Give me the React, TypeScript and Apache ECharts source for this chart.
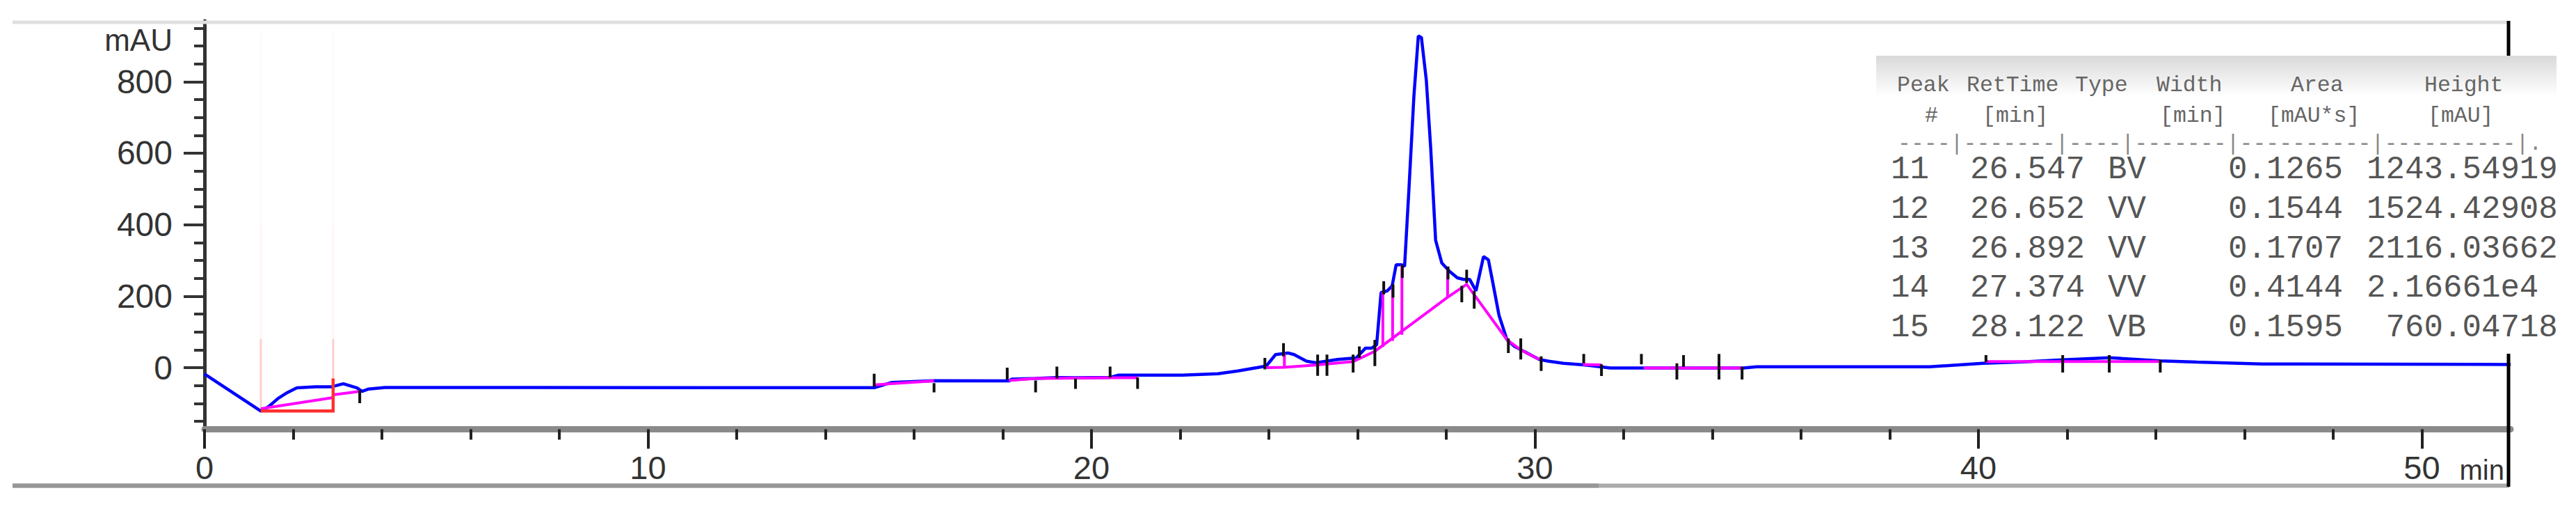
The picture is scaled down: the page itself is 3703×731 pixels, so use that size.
import React, { useEffect, useRef } from 'react';
import * as echarts from 'echarts';

// ---- chromatogram trace (time in min, signal in mAU) ----
const traceTime = [
  0, 1.27, 1.45, 1.66, 1.87, 2.08, 2.5, 2.87, 3.13, 3.44, 3.55, 3.7, 4.07,
  15.1, 15.5, 16.45, 18.14, 18.2, 18.74, 19.22, 19.64, 20.42, 20.6, 21.04, 22.05, 22.85, 23.3,
  23.73, 23.94, 24.15, 24.43, 24.57, 24.85, 25.06, 25.55, 25.97, 26.18, 26.32, 26.43,
  26.53, 26.67, 26.78, 26.87, 26.99, 27.06, 27.16, 27.27, 27.37, 27.44, 27.55, 27.65,
  27.76, 27.9, 28.07, 28.25, 28.39, 28.53, 28.67, 28.84, 28.95, 29.05, 29.19, 29.37,
  29.54, 29.75, 30.1, 30.31, 30.64, 31.1, 31.7, 34.7, 35.0, 38.9, 40.1, 41.0, 41.9,
  42.95, 44.1, 44.93, 46.4, 52,
];
const traceMAU = [
  -17.5, -121.3, -108.4, -85.7, -69.4, -56.5, -53.2, -53.2, -44.8, -56.5, -66.2, -59.7, -55.4,
  -55.8, -41, -36.3, -37, -32, -30, -27.5, -28, -27, -21, -21, -21, -17, -9,
  0, 4.6, 36.6, 41.2, 36.6, 18.3, 13.7, 22.9, 27.5, 54.9, 54.9, 64,
  210.3, 214.9, 228.6, 288, 288, 283.4, 502.9, 758.9, 928, 923.4, 804.6, 612.6,
  356.6, 292.6, 269.7, 251.4, 246.9, 246.9, 214.9, 310.9, 301.7, 237.7, 146.3, 77.8,
  59.5, 45.7, 22.9, 18.3, 12.3, 8, -0.7, -0.7, 2.6, 2.6, 12.3, 16, 22,
  28, 19, 15.6, 10.4, 9.1,
];

// ---- integration baselines (magenta) ----
const baselineSegments = [
  [[1.27, -114.9], [2.9, -83.7]],
  [[2.9, -75.9], [3.5, -66.2]],
  [[15.1, -48], [16.45, -37]],
  [[18.14, -36], [18.75, -30], [19.64, -29], [20.42, -28], [21.04, -28]],
  [[23.94, 0], [24.35, 1], [25.1, 8], [25.9, 17], [26.39, 46], [28.02, 196], [28.46, 233], [29.37, 78], [29.68, 50], [30.1, 23]],
  [[31.08, 9], [31.5, 8]],
  [[32.45, -0.7], [34.7, -0.7]],
  [[40.17, 17], [44.1, 17]],
];
// drop lines: [time, from, to]
const dropLines = [
  [24.35, 1, 40],
  [26.57, 58, 212],
  [26.79, 75, 228],
  [27.0, 92, 287],
  [28.03, 196, 272],
];
// peak start/end tick marks: [time, v1, v2]
const peakMarks = [
  [3.5, -63, -99], [15.1, -17, -53], [16.45, -43, -69], [18.1, 0, -33], [18.74, -36, -69],
  [19.22, 3, -30], [19.64, -30, -59], [20.42, 3, -27], [21.04, -27, -59],
  [23.91, 27.5, -4.6], [24.33, 68.6, 32], [25.1, 36.6, -22.8], [25.31, 36.6, -22.8],
  [25.9, 36.6, -13.7], [26.04, 59.5, 27.5], [26.39, 77.8, 4.6], [26.59, 242, 205],
  [26.8, 233, 196], [27.01, 288, 251], [28.04, 283, 247], [28.35, 229, 183],
  [28.46, 274, 237], [28.63, 215, 165], [29.4, 82, 41], [29.68, 82, 23], [30.14, 32, -9],
  [31.1, 38.5, 12.3], [31.5, 9.3, -23.4], [32.4, 38.5, 9.3], [33.2, 12.3, -33.1],
  [33.35, 35.3, 2.6], [34.15, 38.5, -33.1], [34.67, 2.6, -33.1], [40.17, 35.3, 15.6],
  [41.9, 35.3, -13.6], [42.95, 35.3, -13.6], [44.1, 22, -13.6],
];
// integration event box (red)
const eventBox = [[1.27, -121.3], [2.9, -121.3], [2.9, -30]];
const eventTimes = [1.27, 2.9];
const eventStarts = [-121.3, -30];
const eventTop = 935;

// ---- axes ----
const yMajor = [0, 200, 400, 600, 800];
const yMinor = [-150, -100, -50, 50, 100, 150, 250, 300, 350, 450, 500, 550, 650, 700, 750, 850, 900, 950];
const xMajor = [0, 10, 20, 30, 40, 50];
const xMinor = [2, 4, 6, 8, 12, 14, 16, 18, 22, 24, 26, 28, 32, 34, 36, 38, 42, 44, 46, 48];
const yUnit = 'mAU';
const xUnit = 'min';

// ---- peak table ----
const headerLine1 = ['Peak', 'RetTime', 'Type', 'Width', 'Area', 'Height'];
const headerLine2 = ['#', '[min]', '[min]', '[mAU*s]', '[mAU]'];
const headerRule = '----|-------|----|-------|----------|----------|.';
const peakNo = ['11', '12', '13', '14', '15'];
const peakRetTime = ['26.547', '26.652', '26.892', '27.374', '28.122'];
const peakType = ['BV', 'VV', 'VV', 'VV', 'VB'];
const peakWidth = ['0.1265', '0.1544', '0.1707', '0.4144', '0.1595'];
const peakArea = ['1243.54919', '1524.42908', '2116.03662', '2.16661e4', ' 760.04718'];

const SANS = "'Liberation Sans', Arial, Helvetica, sans-serif";
const MONO = "'Liberation Mono', 'DejaVu Sans Mono', monospace";

export default function App() {
  const ref = useRef<HTMLDivElement>(null);

  useEffect(() => {
    if (!ref.current) return;
    const chart = echarts.init(ref.current, undefined, { renderer: 'svg' });

    const W = 3703;
    const gridLeft = 294;
    const gridRight = 3609;
    const gridTop = 30;
    const axisY = 616.4;

    const fadeBands = [
      [null, 80, 0.22],
      [80, 400, 0.05],
      [400, eventTop, 0.025],
    ];
    const eventLines: any[] = [];
    eventTimes.forEach((t, i) => {
      fadeBands.forEach(([a, b, op]) => {
        const from = a === null ? eventStarts[i] : (a as number);
        eventLines.push({
          coords: [[t, from], [t, b]],
          lineStyle: { color: '#ff2020', opacity: op, width: 3 },
        });
      });
    });

    // table layout
    const tX = 2697, tY = 80, tW = 978, tH = 428;
    const h1X = [2727, 2827, 2983, 3100, 3293, 3485];
    const h2X = [2767, 2850, 3105, 3260, 3490];
    const rowX = [2718, 2832, 3030, 3203, 3402];
    const charW = 27.5;
    const rowY0 = 244, rowStep = 56.8;

    const tableText: any[] = [];
    headerLine1.forEach((s, i) =>
      tableText.push({ type: 'text', id: `h1_${i}`, x: h1X[i], y: 122, z: 12, style: { text: s, font: `31.5px ${MONO}`, fill: '#666', align: 'left', verticalAlign: 'middle' } }));
    headerLine2.forEach((s, i) =>
      tableText.push({ type: 'text', id: `h2_${i}`, x: h2X[i], y: 166, z: 12, style: { text: s, font: `31.5px ${MONO}`, fill: '#666', align: 'left', verticalAlign: 'middle' } }));
    tableText.push({ type: 'text', id: 'rule', x: 2728, y: 206, z: 12, style: { text: headerRule, font: `31.5px ${MONO}`, fill: '#888', align: 'left', verticalAlign: 'middle' } });
    peakNo.forEach((_, r) => {
      const cells = [peakNo[r], peakRetTime[r], peakType[r], peakWidth[r], peakArea[r]];
      cells.forEach((c, k) => {
        const lead = c.length - c.trimStart().length;
        tableText.push({
          type: 'text', id: `cell_${r}_${k}`, x: rowX[k] + lead * charW, y: rowY0 + r * rowStep, z: 12,
          style: { text: c.trim(), font: `45.8px ${MONO}`, fill: '#555', align: 'left', verticalAlign: 'middle' },
        });
      });
    });

    const option: any = {
      animation: false,
      backgroundColor: '#ffffff',
      grid: { left: gridLeft, right: W - gridRight, top: gridTop, bottom: 731 - axisY, containLabel: false },
      xAxis: [
        {
          type: 'value', min: 0, max: 52, position: 'bottom',
          axisLine: { show: true, onZero: false, lineStyle: { color: '#8a8a8a', width: 9 } },
          axisTick: { show: true, customValues: xMajor, length: 28, lineStyle: { color: '#222', width: 4 } },
          axisLabel: { show: true, customValues: xMajor, margin: 32, fontSize: 47, color: '#333', fontFamily: SANS },
          splitLine: { show: false },
        },
        {
          type: 'value', min: 0, max: 52, position: 'bottom',
          axisLine: { show: true, onZero: false, lineStyle: { color: 'rgba(0,0,0,0)', width: 1 } },
          axisTick: { show: true, customValues: xMinor, length: 15, lineStyle: { color: '#222', width: 4 } },
          axisLabel: { show: false },
          splitLine: { show: false },
        },
      ],
      yAxis: [
        {
          type: 'value', min: -172, max: 970, position: 'left',
          axisLine: { show: true, onZero: false, lineStyle: { color: '#333', width: 5 } },
          axisTick: { show: true, customValues: yMajor, length: 30, lineStyle: { color: '#333', width: 4 } },
          axisLabel: { show: true, customValues: yMajor, margin: 46, fontSize: 48, color: '#333', fontFamily: SANS },
          splitLine: { show: false },
        },
        {
          type: 'value', min: -172, max: 970, position: 'left',
          axisLine: { show: true, onZero: false, lineStyle: { color: 'rgba(0,0,0,0)', width: 1 } },
          axisTick: { show: true, customValues: yMinor, length: 15, lineStyle: { color: '#333', width: 4 } },
          axisLabel: { show: false },
          splitLine: { show: false },
        },
      ],
      series: [
        {
          type: 'line', xAxisIndex: 0, yAxisIndex: 0, z: 2,
          data: traceTime.map((t, i) => [t, traceMAU[i]]),
          showSymbol: false, symbol: 'none',
          lineStyle: { color: '#0000ff', width: 4.5 },
        },
        {
          type: 'lines', coordinateSystem: 'cartesian2d', xAxisIndex: 0, yAxisIndex: 0, z: 3,
          polyline: true, silent: true,
          data: eventLines,
        },
        {
          type: 'lines', coordinateSystem: 'cartesian2d', xAxisIndex: 0, yAxisIndex: 0, z: 3,
          polyline: true, silent: true,
          data: baselineSegments.map((c) => ({ coords: c })),
          lineStyle: { color: '#ff00ff', width: 4, opacity: 1 },
        },
        {
          type: 'lines', coordinateSystem: 'cartesian2d', xAxisIndex: 0, yAxisIndex: 0, z: 3,
          polyline: true, silent: true,
          data: dropLines.map(([t, a, b]) => ({ coords: [[t, a], [t, b]] })),
          lineStyle: { color: '#ff00ff', width: 4, opacity: 1 },
        },
        {
          type: 'lines', coordinateSystem: 'cartesian2d', xAxisIndex: 0, yAxisIndex: 0, z: 4,
          polyline: true, silent: true,
          data: [{ coords: eventBox }],
          lineStyle: { color: '#ff3030', width: 4.5, opacity: 1 },
        },
        {
          type: 'lines', coordinateSystem: 'cartesian2d', xAxisIndex: 0, yAxisIndex: 0, z: 5,
          polyline: true, silent: true,
          data: peakMarks.map(([t, a, b]) => ({ coords: [[t, a], [t, b]] })),
          lineStyle: { color: '#111', width: 4, opacity: 1 },
        },
      ],
      graphic: {
        elements: [
          { type: 'rect', id: 'frameTop', z: 1, shape: { x: 18, y: 29.5, width: 3589, height: 5 }, style: { fill: '#e0e0e0' } },
          { type: 'rect', id: 'frameBottom', z: 1, shape: { x: 18, y: 694.5, width: 3589, height: 6 }, style: { fill: '#ababab' } },
          { type: 'rect', id: 'frameBottomDark', z: 2, shape: { x: 18, y: 694.5, width: 2280, height: 6 }, style: { fill: '#979797' } },
          { type: 'rect', id: 'frameRight', z: 6, shape: { x: 3603.5, y: 30, width: 5, height: 669 }, style: { fill: '#000000' } },
          { type: 'text', id: 'yUnit', x: 248, y: 57, z: 6, style: { text: yUnit, font: `44px ${SANS}`, fill: '#333', align: 'right', verticalAlign: 'middle' } },
          { type: 'text', id: 'xUnit', x: 3600, y: 675, z: 6, style: { text: xUnit, font: `40px ${SANS}`, fill: '#333', align: 'right', verticalAlign: 'middle' } },
          { type: 'rect', id: 'tableBg', z: 10, shape: { x: tX, y: tY, width: tW, height: tH }, style: { fill: '#ffffff' } },
          {
            type: 'rect', id: 'tableHead', z: 11, shape: { x: tX, y: tY, width: tW, height: 58 },
            style: {
              fill: new echarts.graphic.LinearGradient(0, 0, 0, 1, [
                { offset: 0, color: '#d9d9d9' },
                { offset: 1, color: '#ffffff' },
              ]),
            },
          },
          ...tableText,
        ],
      },
    };

    chart.setOption(option);
    return () => chart.dispose();
  }, []);

  return (
    <div
      ref={ref}
      style={{ position: 'absolute', left: 0, top: 0, width: 3703, height: 731, background: '#fff' }}
    />
  );
}
